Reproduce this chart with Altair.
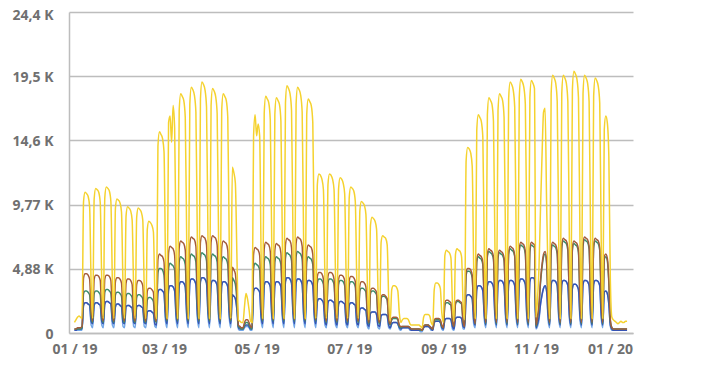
import altair as alt
import pandas as pd

# Daily values for 2019 (units of 100). First line: Tue 1 Jan - Sun 6 Jan, then one line per week (Mon..Sun)
yellow = [
    8, 10, 12, 13, 12, 11,
    100, 107, 106, 104, 96, 37, 11,
    102, 110, 109, 107, 99, 39, 11,
    103, 111, 110, 108, 100, 39, 11,
    95, 102, 101, 99, 92, 36, 11,
    89, 96, 95, 93, 86, 34, 11,
    88, 95, 94, 92, 86, 33, 11,
    79, 85, 84, 82, 77, 30, 11,
    142, 153, 151, 148, 138, 54, 11,
    160, 165, 145, 173, 156, 58, 11,
    169, 182, 180, 177, 164, 64, 11,
    174, 187, 185, 181, 168, 65, 11,
    178, 191, 189, 185, 172, 67, 11,
    173, 186, 184, 180, 167, 65, 11,
    169, 182, 180, 177, 164, 64, 11,
    126, 122, 114, 60, 10, 9, 8,
    8, 20, 30, 26, 18, 9, 8,
    150, 166, 150, 159, 150, 55, 11,
    167, 180, 178, 175, 162, 63, 11,
    166, 179, 177, 174, 161, 63, 11,
    175, 188, 186, 182, 169, 66, 11,
    174, 187, 185, 181, 168, 65, 11,
    166, 178, 176, 173, 160, 62, 11,
    113, 121, 120, 117, 109, 42, 11,
    113, 121, 120, 117, 109, 42, 11,
    110, 118, 117, 114, 106, 41, 11,
    103, 111, 110, 108, 100, 39, 11,
    93, 100, 99, 97, 90, 35, 10,
    82, 88, 87, 85, 79, 31, 10,
    69, 74, 73, 72, 67, 26, 9,
    33, 36, 36, 35, 32, 15, 8,
    10, 11, 11, 11, 10, 7, 6,
    6, 6, 6, 6, 6, 5, 4,
    12, 14, 14, 14, 13, 8, 6,
    33, 38, 38, 37, 34, 15, 8,
    59, 63, 62, 61, 57, 22, 9,
    60, 64, 63, 62, 58, 22, 10,
    131, 141, 140, 137, 127, 49, 11,
    154, 166, 164, 161, 149, 58, 11,
    166, 179, 177, 174, 161, 63, 11,
    169, 182, 180, 177, 164, 64, 11,
    178, 191, 189, 185, 172, 67, 11,
    179, 193, 191, 187, 174, 68, 11,
    179, 192, 190, 186, 12, 25, 50,
    95, 135, 168, 171, 100, 40, 11,
    182, 196, 194, 190, 176, 69, 11,
    182, 196, 194, 190, 176, 69, 11,
    185, 199, 197, 193, 179, 70, 11,
    182, 196, 194, 190, 176, 69, 11,
    180, 194, 192, 188, 175, 68, 11,
    155, 165, 160, 134, 40, 12, 10,
    9, 8, 7, 8, 9, 8, 8,
    9, 9,
]

brown = [
    3, 3, 4, 4, 4, 5,
    42, 45, 45, 44, 41, 16, 9,
    41, 44, 44, 43, 40, 15, 9,
    41, 44, 44, 43, 40, 15, 9,
    39, 42, 42, 41, 38, 15, 9,
    38, 41, 41, 40, 37, 14, 9,
    37, 40, 40, 39, 36, 14, 9,
    32, 34, 34, 33, 31, 12, 9,
    56, 60, 59, 58, 54, 21, 10,
    61, 66, 65, 64, 59, 23, 10,
    65, 70, 69, 68, 63, 25, 10,
    68, 73, 72, 71, 66, 26, 10,
    69, 74, 73, 72, 67, 26, 10,
    69, 74, 73, 72, 67, 26, 10,
    65, 70, 69, 68, 63, 25, 10,
    50, 48, 45, 30, 6, 5, 4,
    4, 8, 10, 10, 8, 5, 4,
    60, 65, 64, 63, 59, 23, 10,
    64, 69, 68, 67, 62, 24, 10,
    63, 68, 67, 66, 61, 24, 10,
    67, 72, 71, 70, 65, 25, 10,
    68, 73, 72, 71, 66, 26, 10,
    62, 67, 66, 65, 60, 23, 10,
    43, 46, 46, 45, 41, 16, 9,
    43, 46, 46, 45, 41, 16, 9,
    41, 44, 44, 43, 40, 15, 9,
    40, 43, 43, 42, 39, 15, 9,
    36, 39, 39, 38, 35, 14, 8,
    32, 34, 34, 33, 31, 12, 8,
    27, 29, 29, 28, 26, 10, 7,
    11, 12, 12, 12, 11, 6, 5,
    5, 5, 5, 5, 5, 4, 3,
    3, 3, 3, 3, 3, 3, 2,
    5, 6, 6, 6, 5, 4, 3,
    10, 11, 11, 11, 10, 6, 4,
    23, 25, 25, 24, 23, 9, 5,
    23, 25, 25, 24, 23, 9, 5,
    46, 49, 49, 48, 44, 17, 7,
    56, 60, 59, 58, 54, 21, 8,
    60, 64, 63, 62, 58, 22, 8,
    59, 63, 62, 61, 57, 22, 8,
    61, 66, 65, 64, 59, 23, 8,
    64, 69, 68, 67, 62, 24, 8,
    64, 69, 68, 67, 6, 12, 22,
    40, 52, 60, 62, 55, 22, 8,
    64, 69, 68, 67, 62, 24, 8,
    67, 72, 71, 70, 65, 25, 8,
    65, 70, 69, 68, 63, 25, 8,
    68, 73, 72, 71, 66, 26, 8,
    67, 72, 71, 70, 65, 25, 8,
    58, 60, 57, 40, 10, 4, 3,
    3, 3, 3, 3, 3, 3, 3,
    3, 3,
]

teal = [
    3, 3, 3, 3, 3, 4,
    30, 32, 32, 31, 29, 12, 8,
    30, 32, 32, 31, 29, 12, 8,
    31, 33, 33, 32, 30, 12, 8,
    29, 31, 31, 30, 28, 11, 8,
    28, 30, 30, 29, 27, 11, 8,
    27, 29, 29, 28, 26, 10, 8,
    25, 27, 27, 26, 24, 10, 8,
    46, 49, 49, 48, 44, 17, 9,
    49, 53, 52, 51, 48, 19, 9,
    54, 58, 57, 56, 52, 20, 9,
    56, 60, 59, 58, 54, 21, 9,
    57, 61, 60, 59, 55, 21, 9,
    56, 60, 59, 58, 54, 21, 9,
    54, 58, 57, 56, 52, 20, 9,
    42, 40, 37, 25, 5, 4, 3,
    3, 6, 8, 8, 6, 4, 3,
    49, 53, 52, 51, 48, 19, 9,
    54, 58, 57, 56, 52, 20, 9,
    54, 58, 57, 56, 52, 20, 9,
    57, 61, 60, 59, 55, 21, 9,
    58, 62, 61, 60, 56, 22, 9,
    54, 58, 57, 56, 52, 20, 9,
    38, 41, 41, 40, 37, 14, 8,
    38, 41, 41, 40, 37, 14, 8,
    37, 40, 40, 39, 36, 14, 8,
    36, 39, 39, 38, 35, 14, 8,
    32, 34, 34, 33, 31, 12, 7,
    30, 32, 32, 31, 29, 11, 7,
    26, 28, 28, 27, 25, 10, 6,
    10, 11, 11, 11, 10, 5, 4,
    5, 5, 5, 5, 5, 4, 3,
    3, 3, 3, 3, 3, 2, 2,
    5, 6, 6, 6, 5, 4, 3,
    9, 10, 10, 10, 9, 5, 4,
    21, 23, 23, 22, 21, 8, 5,
    22, 24, 24, 23, 22, 8, 5,
    44, 47, 47, 46, 42, 16, 7,
    54, 58, 57, 56, 52, 20, 7,
    58, 62, 61, 60, 56, 22, 7,
    57, 61, 60, 59, 55, 21, 7,
    60, 64, 63, 62, 58, 22, 7,
    62, 67, 66, 65, 60, 23, 7,
    62, 67, 66, 65, 5, 11, 20,
    38, 50, 58, 60, 53, 21, 7,
    62, 67, 66, 65, 60, 23, 7,
    65, 70, 69, 68, 63, 25, 7,
    63, 68, 67, 66, 61, 24, 7,
    66, 71, 70, 69, 64, 25, 7,
    65, 70, 69, 68, 63, 25, 7,
    56, 58, 55, 38, 9, 4, 3,
    3, 3, 3, 3, 3, 3, 3,
    3, 3,
]

blue = [
    2, 2, 3, 3, 3, 3,
    21, 23, 23, 22, 21, 9, 7,
    21, 23, 23, 22, 21, 9, 7,
    22, 24, 24, 23, 22, 9, 7,
    20, 22, 22, 21, 20, 8, 7,
    20, 21, 21, 20, 19, 8, 7,
    20, 21, 21, 20, 19, 8, 7,
    16, 17, 17, 16, 15, 7, 6,
    31, 33, 33, 32, 30, 12, 7,
    33, 36, 36, 35, 32, 13, 7,
    36, 39, 39, 38, 35, 14, 7,
    38, 41, 41, 40, 37, 14, 7,
    39, 42, 42, 41, 38, 15, 7,
    37, 40, 40, 39, 36, 14, 7,
    36, 39, 39, 38, 35, 14, 7,
    29, 28, 26, 18, 4, 3, 3,
    3, 5, 6, 6, 5, 3, 3,
    32, 34, 34, 33, 31, 12, 7,
    36, 39, 39, 38, 35, 14, 7,
    36, 39, 39, 38, 35, 14, 7,
    39, 42, 42, 41, 38, 15, 7,
    38, 41, 41, 40, 37, 14, 7,
    37, 40, 40, 39, 36, 14, 7,
    24, 26, 26, 25, 23, 9, 6,
    23, 25, 25, 24, 23, 9, 6,
    22, 24, 24, 23, 22, 8, 6,
    21, 23, 23, 22, 21, 8, 6,
    18, 19, 19, 18, 17, 7, 5,
    15, 16, 16, 16, 14, 6, 5,
    13, 14, 14, 14, 13, 6, 4,
    7, 8, 8, 8, 7, 4, 3,
    4, 4, 4, 4, 4, 3, 2,
    2, 2, 2, 2, 2, 2, 2,
    4, 5, 5, 5, 4, 3, 2,
    8, 9, 9, 9, 8, 4, 3,
    10, 11, 11, 11, 10, 5, 3,
    11, 12, 12, 12, 11, 5, 4,
    27, 29, 29, 28, 26, 10, 6,
    33, 36, 36, 35, 32, 13, 6,
    36, 39, 39, 38, 35, 14, 6,
    37, 40, 40, 39, 36, 14, 6,
    37, 40, 40, 39, 36, 14, 6,
    38, 41, 41, 40, 37, 14, 6,
    39, 42, 42, 41, 4, 7, 12,
    22, 29, 34, 36, 32, 13, 6,
    37, 40, 40, 39, 36, 14, 6,
    37, 40, 40, 39, 36, 14, 6,
    34, 37, 37, 36, 33, 13, 6,
    37, 40, 40, 39, 36, 14, 6,
    37, 40, 40, 39, 36, 14, 6,
    31, 32, 30, 22, 6, 3, 2,
    2, 2, 2, 2, 2, 2, 2,
    2, 2,
]

light_blue = [
    2, 2, 2, 2, 2, 2,
    21, 23, 23, 22, 21, 6, 4,
    21, 23, 23, 22, 21, 6, 4,
    22, 24, 24, 23, 22, 6, 4,
    20, 22, 22, 21, 20, 5, 4,
    20, 21, 21, 20, 19, 5, 4,
    20, 21, 21, 20, 19, 5, 4,
    16, 17, 17, 16, 15, 5, 4,
    31, 33, 33, 32, 30, 9, 4,
    33, 36, 36, 35, 32, 10, 4,
    36, 39, 39, 38, 35, 11, 4,
    38, 41, 41, 40, 37, 11, 4,
    39, 42, 42, 41, 38, 12, 4,
    37, 40, 40, 39, 36, 11, 4,
    36, 39, 39, 38, 35, 11, 4,
    29, 28, 26, 18, 3, 2, 2,
    2, 4, 5, 5, 4, 2, 2,
    32, 34, 34, 33, 31, 9, 4,
    36, 39, 39, 38, 35, 11, 4,
    36, 39, 39, 38, 35, 11, 4,
    39, 42, 42, 41, 38, 12, 4,
    38, 41, 41, 40, 37, 11, 4,
    37, 40, 40, 39, 36, 11, 4,
    24, 26, 26, 25, 23, 6, 4,
    23, 25, 25, 24, 23, 6, 4,
    22, 24, 24, 23, 22, 6, 4,
    21, 23, 23, 22, 21, 6, 4,
    18, 19, 19, 18, 17, 5, 3,
    15, 16, 16, 16, 14, 4, 3,
    13, 14, 14, 14, 13, 4, 3,
    7, 8, 8, 8, 7, 3, 2,
    4, 4, 4, 4, 4, 2, 2,
    2, 2, 2, 2, 2, 1, 1,
    4, 5, 5, 5, 4, 2, 2,
    8, 9, 9, 9, 8, 3, 2,
    10, 11, 11, 11, 10, 3, 2,
    11, 12, 12, 12, 11, 3, 3,
    27, 29, 29, 28, 26, 7, 4,
    33, 36, 36, 35, 32, 10, 4,
    36, 39, 39, 38, 35, 11, 4,
    37, 40, 40, 39, 36, 11, 4,
    37, 40, 40, 39, 36, 11, 4,
    38, 41, 41, 40, 37, 11, 4,
    39, 42, 42, 41, 3, 5, 10,
    22, 29, 34, 36, 32, 10, 4,
    37, 40, 40, 39, 36, 11, 4,
    37, 40, 40, 39, 36, 11, 4,
    34, 37, 37, 36, 33, 10, 4,
    37, 40, 40, 39, 36, 11, 4,
    37, 40, 40, 39, 36, 11, 4,
    31, 32, 30, 22, 5, 2, 2,
    2, 2, 2, 2, 2, 2, 2,
    2, 2,
]

y_tick_values = [0, 4883, 9766, 14649, 19532, 24415]
y_tick_labels = ["0", "4,88 K", "9,77 K", "14,6 K", "19,5 K", "24,4 K"]
x_tick_months = [(2019, 1), (2019, 3), (2019, 5), (2019, 7), (2019, 9), (2019, 11), (2020, 1)]

# draw order: bottom first
series = [
    ("light_blue", light_blue, "#72a7e8"),
    ("blue", blue, "#3753b3"),
    ("teal", teal, "#3a8c6c"),
    ("brown", brown, "#a35c3c"),
    ("yellow", yellow, "#f5d22e"),
]

dates = pd.date_range("2019-01-01", periods=365, freq="D")
frames = []
for name, vals, _ in series:
    frames.append(pd.DataFrame({"date": dates, "value": [v * 100 for v in vals], "series": name}))
df = pd.concat(frames, ignore_index=True)

label_expr = " : ".join(
    f"datum.value == {v} ? '{l}'" for v, l in zip(y_tick_values, y_tick_labels)
) + " : ''"

x_enc = alt.X(
    "date:T",
    scale=alt.Scale(domain=[
        alt.DateTime(year=2018, month=12, date=28, hours=10),
        alt.DateTime(year=2020, month=1, date=3, hours=22),
    ]),
    axis=alt.Axis(
        title=None,
        values=[alt.DateTime(year=y, month=m, date=1) for y, m in x_tick_months],
        format="%m / %y",
        grid=False,
        ticks=False,
        domain=True,
        domainColor="#bdbdbd",
        domainWidth=1.5,
        labelPadding=9,
        labelFont="Open Sans",
        labelFontSize=14,
        labelFontWeight="bold",
        labelColor="#707070",
        labelAlign={"condition": {"test": "datum.value > time(datetime(2019, 11, 15))", "value": "right"}, "value": "center"},
        labelOffset={"condition": {"test": "datum.value > time(datetime(2019, 11, 15))", "value": 4}, "value": 0},
    ),
)
y_enc = alt.Y(
    "value:Q",
    scale=alt.Scale(domain=[0, 24415], nice=False),
    axis=alt.Axis(
        title=None,
        values=y_tick_values,
        labelExpr=label_expr,
        grid=True,
        gridColor="#bdbdbd",
        gridWidth=1.5,
        ticks=False,
        domain=True,
        domainColor="#bdbdbd",
        domainWidth=1.5,
        labelPadding=16,
        labelFont="Open Sans",
        labelFontSize=14,
        labelFontWeight="bold",
        labelColor="#707070",
        labelOffset={"condition": {"test": "datum.value > 24000", "value": 3}, "value": 1},
    ),
)

layers = []
for name, _, color in series:
    layers.append(
        alt.Chart(df)
        .transform_filter(alt.datum.series == name)
        .mark_line(color=color, strokeWidth=1.5, interpolate="monotone")
        .encode(x=x_enc, y=y_enc)
    )

chart = (
    alt.layer(*layers)
    .properties(
        width=564,
        height=321,
        autosize=alt.AutoSizeParams(type="none"),
        padding={"left": 61, "top": 4, "right": 60, "bottom": 30},
        background="white",
    )
    .configure_view(stroke=None)
)

chart.save("out.html", embed_options={"renderer": "svg", "actions": False})
